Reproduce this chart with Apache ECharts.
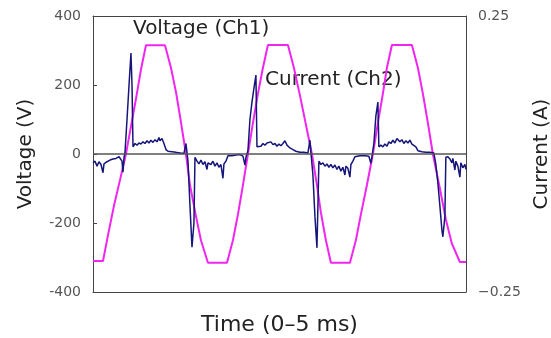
<!DOCTYPE html>
<html>
<head>
<meta charset="utf-8">
<script src="https://cdn.jsdelivr.net/npm/echarts@6/dist/echarts.min.js"></script>
<style>
html,body{margin:0;padding:0;background:#fff;}
#c{width:551px;height:338px;}
</style>
</head>
<body>
<div id="c"></div>
<script>
// Voltage trace (Ch1), time in ms, value in V
const voltageTime = [0,0.134,0.201,0.281,0.362,0.442,0.509,0.576,0.643,0.710,0.965,1.045,1.112,1.166,1.246,1.300,1.380,1.447,1.541,1.796,1.876,1.943,2.010,2.077,2.144,2.211,2.278,2.345,2.613,2.693,2.774,2.854,2.935,3.002,3.055,3.122,3.189,3.444,3.524,3.591,3.672,3.752,3.819,3.886,3.940,4.007,4.275,4.355,4.422,4.489,4.556,4.650,4.730,4.811,4.918,5.0];
const voltageV    = [-310,-310,-235,-150,-75,0,80,160,245,315,315,250,180,110,0,-90,-180,-250,-315,-315,-250,-175,-90,0,90,175,250,316,316,250,170,85,0,-90,-170,-250,-315,-315,-250,-175,-90,0,90,175,250,316,316,250,175,90,0,-100,-190,-260,-313,-313];

// Current trace (Ch2), time in ms, value in A
const currentTime = [0,0.027,0.054,0.080,0.107,0.134,0.147,0.188,0.228,0.268,0.308,0.349,0.375,0.389,0.402,0.416,0.429,0.456,0.483,0.509,0.523,0.536,
0.563,0.590,0.616,0.643,0.670,0.697,0.724,0.750,0.777,0.804,0.831,0.858,0.885,0.898,0.925,0.951,0.978,1.005,1.059,1.112,1.166,1.219,1.246,1.260,
1.273,1.300,1.327,1.353,1.367,
1.394,1.420,1.447,1.474,1.501,1.528,1.541,1.581,1.608,1.635,1.662,1.688,1.715,1.742,1.755,1.782,1.809,1.863,1.916,1.970,2.010,2.037,2.050,
2.077,2.104,2.131,2.157,2.184,2.198,
2.224,2.251,2.278,2.305,2.332,2.358,2.385,2.412,2.439,2.466,2.492,2.519,2.546,2.573,2.600,2.640,2.680,2.720,2.774,2.827,2.881,2.908,2.921,
2.948,2.975,3.002,3.015,3.028,
3.055,3.082,3.109,3.136,3.162,3.189,3.216,3.243,3.270,3.296,3.323,3.350,3.377,3.390,3.417,3.444,3.457,3.484,3.511,3.578,3.645,3.698,3.725,3.739,
3.765,3.792,3.819,3.832,
3.859,3.886,3.913,3.940,3.966,3.993,4.020,4.047,4.074,4.087,4.114,4.141,4.167,4.194,4.221,4.248,4.275,4.301,4.328,4.355,4.409,4.462,4.516,4.569,
4.596,4.623,4.650,4.677,4.690,4.717,4.730,
4.757,4.784,4.811,4.824,4.851,4.864,4.891,4.918,4.931,4.958,4.985,5.0];
const currentA = [-0.016,-0.013,-0.022,-0.014,-0.019,-0.034,-0.018,-0.014,-0.011,-0.009,-0.008,-0.005,-0.002,-0.013,-0.033,-0.006,0.003,0.063,0.125,0.183,0.125,0.013,
0.019,0.016,0.020,0.018,0.022,0.019,0.024,0.020,0.025,0.021,0.026,0.022,0.030,0.024,0.028,0.019,0.008,0.005,0.004,0.003,0.002,0.001,0.019,0.003,
-0.013,-0.094,-0.169,-0.125,-0.006,
-0.013,-0.018,-0.011,-0.019,-0.014,-0.028,-0.016,-0.019,-0.013,-0.022,-0.016,-0.024,-0.019,-0.044,-0.018,-0.013,-0.003,-0.003,-0.002,-0.001,-0.004,-0.020,-0.006,
0.006,0.063,0.094,0.119,0.143,0.013,
0.016,0.014,0.019,0.016,0.020,0.018,0.022,0.017,0.019,0.014,0.018,0.015,0.019,0.024,0.016,0.011,0.008,0.005,0.003,0.003,0.002,0.025,0.003,
-0.038,-0.113,-0.170,-0.094,-0.013,
-0.019,-0.016,-0.022,-0.018,-0.024,-0.019,-0.025,-0.020,-0.028,-0.022,-0.031,-0.024,-0.038,-0.022,-0.026,-0.042,-0.019,-0.013,-0.005,-0.003,-0.003,-0.004,-0.017,-0.005,
0.019,0.069,0.094,0.013,
0.016,0.013,0.018,0.014,0.022,0.019,0.025,0.020,0.028,0.031,0.022,0.026,0.019,0.024,0.020,0.025,0.018,0.020,0.013,0.006,0.004,0.003,0.003,0.002,
-0.019,-0.053,-0.094,-0.138,-0.150,-0.113,-0.006,
-0.005,-0.009,-0.016,-0.008,-0.029,-0.013,-0.022,-0.042,-0.016,-0.025,-0.019,-0.028];

const voltageTicks = [-400,-200,0,200,400];
const currentTicks = [-0.25,0.25];

const chart = echarts.init(document.getElementById('c'), null, {renderer:'canvas'});
const zip = (a,b) => a.map((t,i)=>[t,b[i]]);
const font = 'DejaVu Sans';
const frame = {show:true,onZero:false,lineStyle:{color:'#444',width:1}};
chart.setOption({
  animation:false,
  backgroundColor:'#fff',
  grid:{left:93,right:85,top:16,bottom:46,show:false,outerBoundsMode:'none',containLabel:false},
  xAxis:[
    {type:'value',min:0,max:5,position:'bottom',
     name:'Time (0\u20135 ms)',nameLocation:'middle',nameGap:22,
     nameTextStyle:{fontFamily:font,fontSize:22,color:'#222'},
     axisLabel:{show:false},axisTick:{show:false},splitLine:{show:false},
     axisLine:frame},
    {type:'value',min:0,max:5,position:'top',
     axisLabel:{show:false},axisTick:{show:false},splitLine:{show:false},
     axisLine:frame}
  ],
  yAxis:[
    {type:'value',min:voltageTicks[0],max:voltageTicks[voltageTicks.length-1],interval:200,position:'left',
     name:'Voltage (V)',nameLocation:'middle',nameGap:57,nameRotate:90,
     nameTextStyle:{fontFamily:font,fontSize:20,color:'#222'},
     axisLine:frame,axisTick:{show:true,inside:true,length:4,lineStyle:{color:'#444'}},
     splitLine:{show:false},
     axisLabel:{fontFamily:font,fontSize:14,color:'#555',margin:12,formatter:v=>String(v)}},
    {type:'value',min:currentTicks[0],max:currentTicks[1],interval:0.25,position:'right',
     name:'Current (A)',nameLocation:'middle',nameGap:65,nameRotate:90,
     nameTextStyle:{fontFamily:font,fontSize:20,color:'#222'},
     axisLine:frame,axisTick:{show:false},splitLine:{show:false},
     axisLabel:{fontFamily:font,fontSize:14,color:'#555',margin:12,
       formatter:v=> currentTicks.some(c=>Math.abs(c-v)<1e-9) ? (v<0?'\u2212':'')+Math.abs(v).toFixed(2) : ''}}
  ],
  graphic:[
    {type:'text',left:133,top:19,style:{text:'Voltage (Ch1)',font:'20px "DejaVu Sans"',fill:'#222'}},
    {type:'text',left:265,top:70,style:{text:'Current (Ch2)',font:'20px "DejaVu Sans"',fill:'#222'}}
  ],
  series:[
    {name:'Voltage (Ch1)',type:'line',xAxisIndex:0,yAxisIndex:0,data:zip(voltageTime,voltageV),
     showSymbol:false,lineStyle:{color:'#f025f0',width:2},z:2,
     markLine:{silent:true,symbol:'none',label:{show:false},
       lineStyle:{color:'#555',width:1.5,type:'solid'},data:[{yAxis:0}]}},
    {name:'Current (Ch2)',type:'line',xAxisIndex:0,yAxisIndex:1,data:zip(currentTime,currentA),
     showSymbol:false,lineStyle:{color:'#16167a',width:1.5},z:3}
  ]
});
</script>
</body>
</html>
